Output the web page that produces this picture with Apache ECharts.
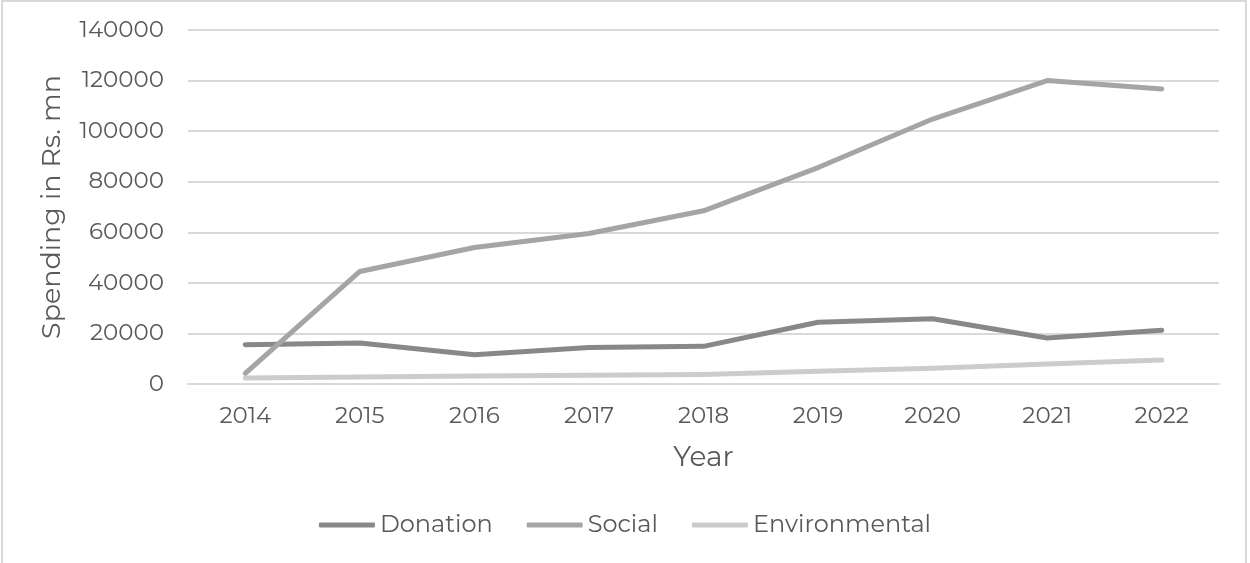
<!DOCTYPE html>
<html>
<head>
<meta charset="utf-8">
<script src="https://cdn.jsdelivr.net/npm/echarts@6/dist/echarts.min.js"></script>
<style>
  html, body { margin: 0; padding: 0; background: #fff; }
  #frame { position: absolute; left: 1px; top: 0; width: 1246px; height: 580px; border: 2px solid #d9d9d9; box-sizing: border-box; }
  #chart { position: absolute; left: 0; top: 0; width: 1250px; height: 563px; }
</style>
</head>
<body>
<div id="frame"></div>
<div id="chart"></div>
<script>
const years = ['2014', '2015', '2016', '2017', '2018', '2019', '2020', '2021', '2022'];
const donation = [15500, 16200, 11600, 14400, 14900, 24400, 25800, 18200, 21300];
const social = [4200, 44500, 54000, 59500, 68500, 85600, 104800, 120000, 116700];
const environmental = [2400, 2800, 3200, 3500, 3800, 5000, 6200, 7900, 9500];
const yTicks = { min: 0, max: 140000, interval: 20000 };

const font = 'Montserrat, "Open Sans", "Noto Sans", sans-serif';
const textColor = '#595959';

function lineSeries(name, data, color) {
  return {
    name, type: 'line', data,
    symbol: 'none',
    lineStyle: { width: 5, color, cap: 'round', join: 'round' },
    itemStyle: { color },
    emphasis: { disabled: true }
  };
}

const chart = echarts.init(document.getElementById('chart'), null, { renderer: 'canvas' });
chart.setOption({
  animation: false,
  textStyle: { fontFamily: font, color: textColor },
  grid: { left: 188, right: 31, top: 30, bottom: 179, containLabel: false },
  legend: {
    bottom: 21, left: 'center',
    itemWidth: 56, itemHeight: 5, itemGap: 34,
    icon: 'roundRect',
    textStyle: { fontFamily: font, fontSize: 24, color: textColor },
    data: ['Donation', 'Social', 'Environmental']
  },
  xAxis: {
    type: 'category', data: years, boundaryGap: true,
    name: 'Year', nameLocation: 'middle', nameGap: 60,
    nameTextStyle: { fontFamily: font, fontSize: 28, color: textColor },
    axisLine: { show: true, lineStyle: { color: '#d9d9d9', width: 2 } },
    axisTick: { show: false },
    axisLabel: { fontFamily: font, fontSize: 23, color: textColor, margin: 21 }
  },
  yAxis: {
    type: 'value', min: yTicks.min, max: yTicks.max, interval: yTicks.interval,
    name: 'Spending in Rs. mn', nameLocation: 'middle', nameGap: 122,
    nameTextStyle: { fontFamily: font, fontSize: 27, color: textColor },
    axisLine: { show: false }, axisTick: { show: false },
    axisLabel: { fontFamily: font, fontSize: 23, color: textColor, margin: 24, formatter: v => String(v) },
    splitLine: { lineStyle: { color: '#d9d9d9', width: 2 } }
  },
  series: [
    lineSeries('Donation', donation, '#888888'),
    lineSeries('Social', social, '#a5a5a5'),
    lineSeries('Environmental', environmental, '#cccccc')
  ]
});
</script>
</body>
</html>
